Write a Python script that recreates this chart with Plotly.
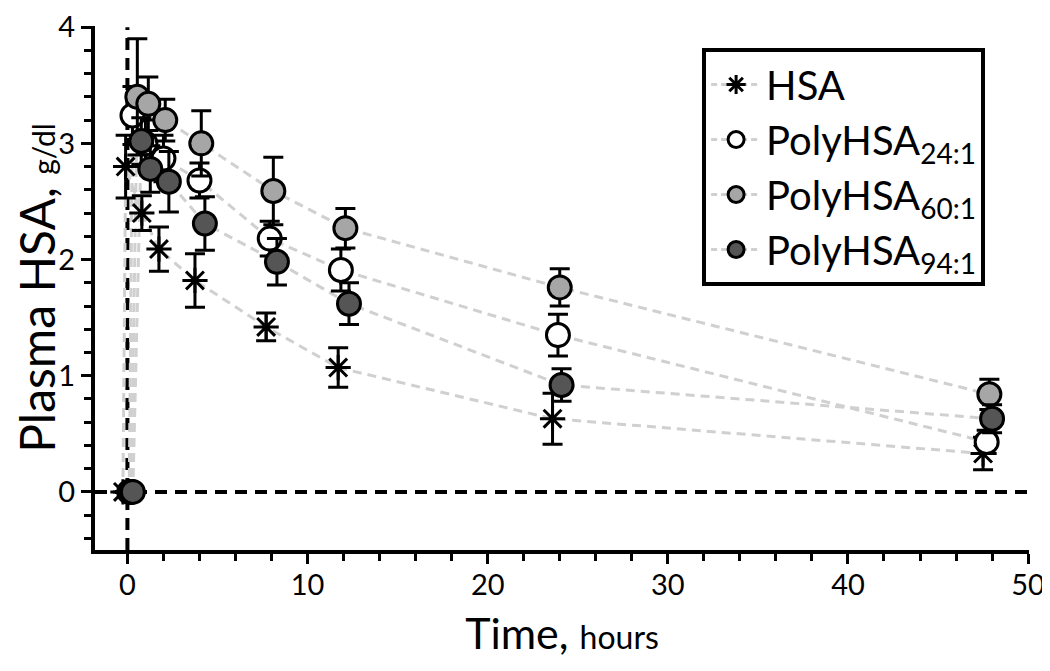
import plotly.graph_objects as go

# ---- data ----
hsa_t = [-0.25, -0.1, 0.8, 1.75, 3.75, 7.7, 11.7, 23.6, 47.5]
hsa_y = [0, 2.80, 2.40, 2.09, 1.82, 1.42, 1.07, 0.63, 0.33]
hsa_e = [0, 0.27, 0.15, 0.19, 0.23, 0.12, 0.17, 0.22, 0.14]

p24_t = [0.1, 0.28, 1.0, 2.0, 4.0, 7.9, 11.85, 23.9, 47.7]
p24_y = [0, 3.24, 3.00, 2.87, 2.68, 2.18, 1.91, 1.35, 0.43]
p24_e = [0, 0.25, 0.20, 0.20, 0.15, 0.15, 0.18, 0.18, 0.10]

p60_t = [0.2, 0.55, 1.16, 2.1, 4.1, 8.1, 12.1, 24.0, 47.85]
p60_y = [0, 3.40, 3.34, 3.20, 3.00, 2.59, 2.27, 1.76, 0.84]
p60_e = [0, 0.50, 0.23, 0.18, 0.28, 0.29, 0.17, 0.16, 0.13]

p94_t = [0.3, 0.77, 1.27, 2.3, 4.3, 8.3, 12.3, 24.1, 48.0]
p94_y = [0, 3.02, 2.78, 2.67, 2.31, 1.98, 1.62, 0.92, 0.63]
p94_e = [0, 0.20, 0.20, 0.26, 0.23, 0.20, 0.18, 0.14, 0.12]

names = ["HSA", "PolyHSA<sub>24:1</sub>", "PolyHSA<sub>60:1</sub>", "PolyHSA<sub>94:1</sub>"]

FONT = "Lato"
LINE_COLOR = "#d0d0d0"
series = [
    (hsa_t, hsa_y, hsa_e, dict(symbol="asterisk-open", size=21, color="black",
                                line=dict(color="black", width=3))),
    (p24_t, p24_y, p24_e, dict(symbol="circle", size=23, color="white",
                                line=dict(color="black", width=3))),
    (p60_t, p60_y, p60_e, dict(symbol="circle", size=23, color="#a6a6a6",
                                line=dict(color="black", width=3))),
    (p94_t, p94_y, p94_e, dict(symbol="circle", size=23, color="#555555",
                                line=dict(color="black", width=3))),
]

fig = go.Figure()

# connecting dashed lines (drawn first, below all markers)
for t, y, e, m in series:
    fig.add_trace(go.Scatter(x=t, y=y, mode="lines", showlegend=False,
                             hoverinfo="skip",
                             line=dict(color=LINE_COLOR, width=3, dash="9px,6px")))

# markers with error bars
for t, y, e, m in series:
    fig.add_trace(go.Scatter(x=t, y=y, mode="markers", showlegend=False,
                             marker=m,
                             error_y=dict(type="data", array=e, visible=True,
                                          color="black", thickness=3, width=10)))

# legend entries
for (t, y, e, m), nm in zip(series, names):
    fig.add_trace(go.Scatter(x=[None], y=[None], mode="lines+markers", name=nm,
                             legendgroup=nm, marker=m,
                             line=dict(color=LINE_COLOR, width=3, dash="6px,4px")))

# dashed zero reference lines
fig.add_shape(type="line", xref="x", yref="y", x0=0, x1=0, y0=-0.5, y1=4.0,
              line=dict(color="black", width=4, dash="12px,8px"), layer="below")
fig.add_shape(type="line", xref="x", yref="y", x0=-1.8, x1=50, y0=0, y1=0,
              line=dict(color="black", width=4, dash="12px,8px"), layer="below")

fig.update_layout(
    width=1042, height=663,
    margin=dict(l=87, r=21, t=18, b=121, autoexpand=False),
    plot_bgcolor="white", paper_bgcolor="white",
    font=dict(family=FONT, color="black"),
    showlegend=True,
    legend=dict(x=0.65, y=0.958, xanchor="left", yanchor="top",
                bgcolor="white", bordercolor="black", borderwidth=4,
                font=dict(family=FONT, size=40, color="black"),
                traceorder="grouped", tracegroupgap=0, itemwidth=50),
)
fig.update_xaxes(
    range=[-1.8, 50.05], dtick=10, tick0=0, automargin=False,
    showline=True, linecolor="black", linewidth=4, mirror=False,
    showgrid=False, zeroline=False, ticklabeloverflow="allow",
    ticks="outside", ticklen=10, tickwidth=3, tickcolor="black",
    ticklabelstandoff=-4,
    minor=dict(dtick=2, tick0=0, ticks="outside", ticklen=7, tickwidth=3,
               tickcolor="black", showgrid=False),
    tickfont=dict(family=FONT, size=29, color="black"),
    title=dict(text="Time, <span style='font-size:32px'>hours</span>",
               font=dict(family=FONT, size=43, color="black"), standoff=20),
)
fig.update_yaxes(
    range=[-0.5, 4.01], dtick=1, tick0=0, automargin=False,
    showline=True, linecolor="black", linewidth=4, mirror=False,
    showgrid=False, zeroline=False, ticklabeloverflow="allow",
    ticks="outside", ticklen=10, tickwidth=3, tickcolor="black",
    minor=dict(dtick=0.2, tick0=0, ticks="outside", ticklen=7, tickwidth=3,
               tickcolor="black", showgrid=False),
    tickfont=dict(family=FONT, size=29, color="black"),
    title=dict(text="Plasma HSA, <span style='font-size:30px'>g/dl</span>",
               font=dict(family=FONT, size=48, color="black"), standoff=8),
)

fig.write_html("out.html")
